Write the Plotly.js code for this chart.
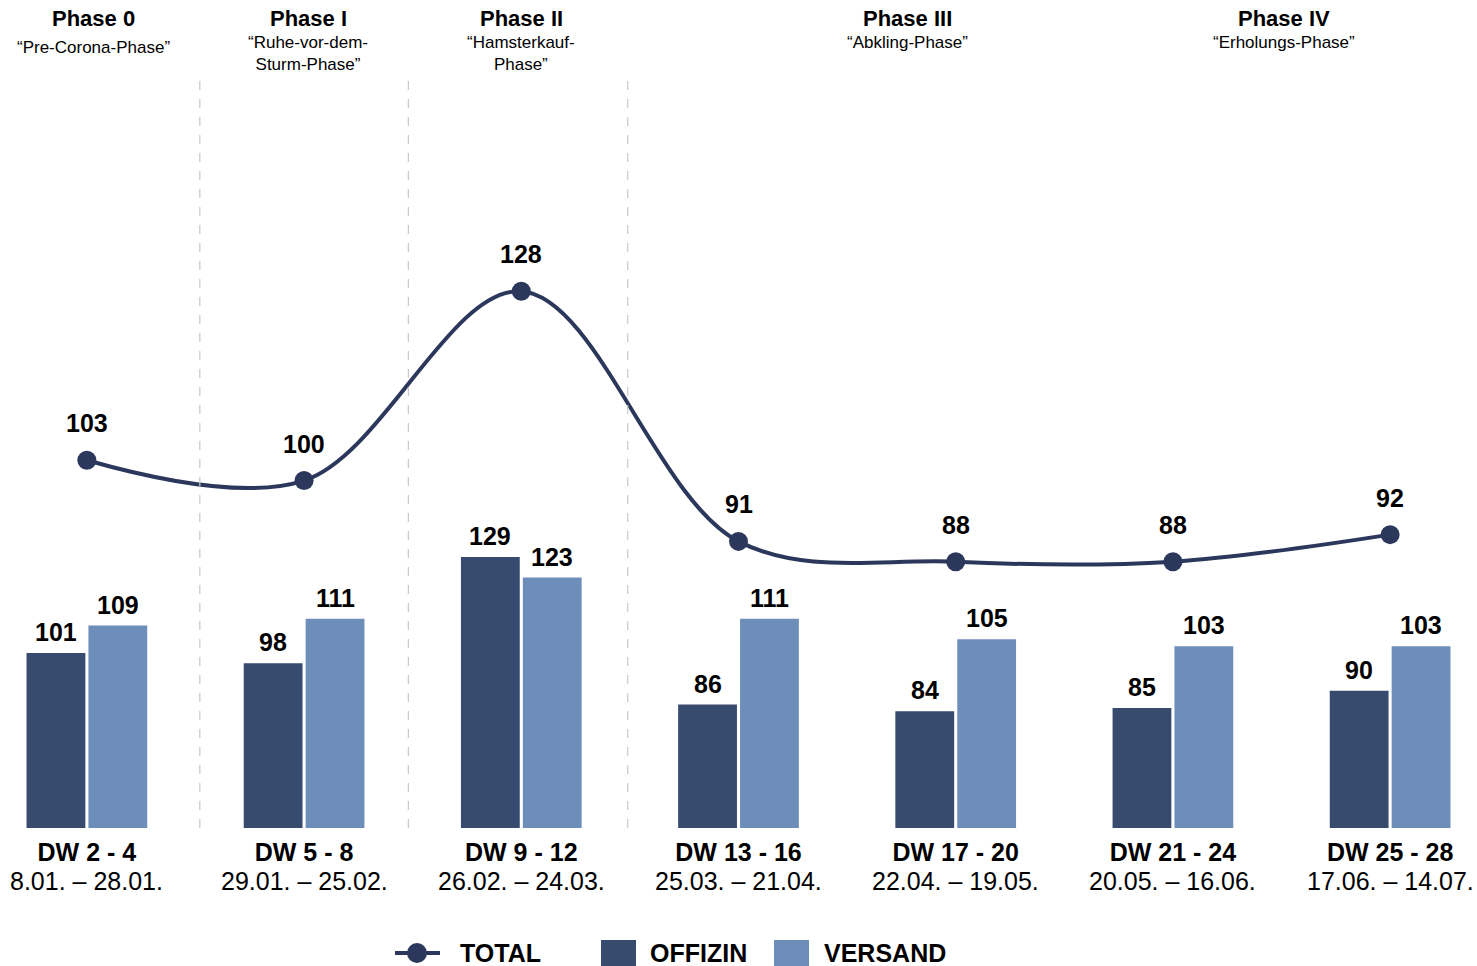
<!DOCTYPE html>
<html>
<head>
<meta charset="utf-8">
<script src="https://cdn.plot.ly/plotly-3.0.1.min.js"></script>
<style>
html,body{margin:0;padding:0;background:#fff;}
#chart{width:1477px;height:966px;}
</style>
</head>
<body>
<div id="chart"></div>
<script>
// ---- data ----
const weeks = ["DW 2 - 4", "DW 5 - 8", "DW 9 - 12", "DW 13 - 16", "DW 17 - 20", "DW 21 - 24", "DW 25 - 28"];
const dateRanges = ["8.01. – 28.01.", "29.01. – 25.02.", "26.02. – 24.03.", "25.03. – 21.04.", "22.04. – 19.05.", "20.05. – 16.06.", "17.06. – 14.07."];
const offizin = [101, 98, 129, 86, 84, 85, 90];
const versand = [109, 111, 123, 111, 105, 103, 103];
const total = [103, 100, 128, 91, 88, 88, 92];
const phaseNames = ["Phase 0", "Phase I", "Phase II", "Phase III", "Phase IV"];
const phaseSubtitles = ["“Pre-Corona-Phase”", "“Ruhe-vor-dem-<br>Sturm-Phase”", "“Hamsterkauf-<br>Phase”", "“Abkling-Phase”", "“Erholungs-Phase”"];
const legendNames = ["TOTAL", "OFFIZIN", "VERSAND"];

// ---- layout constants ----
const W = 1477, H = 966, MT = 75, MB = 138;
const PH = H - MT - MB;
const py = p => (H - MB - p) / PH;      // pixel row -> paper y
const px = p => p / W;                  // pixel col -> paper x
const phaseX = [0.03, 1.02, 2.0, 3.78, 5.51];
const phaseSubTop = [36, 31, 31, 31, 31];
const dividerX = [0.52, 1.48, 2.49];
const FONT = "Liberation Sans, Arial, sans-serif";
const DARK = "#364b6e", LIGHT = "#6e8eba", LINE = "#2c375c";
const FS = 25;

const traces = [
  {
    type: "scatter", mode: "lines+markers", name: legendNames[0],
    x: weeks, y: total, yaxis: "y2",
    line: {color: LINE, width: 4, shape: "spline", smoothing: 1},
    marker: {color: LINE, size: 19},
    cliponaxis: false, hoverinfo: "skip", showlegend: false
  },
  {
    type: "bar", name: legendNames[1], x: weeks, y: offizin,
    marker: {color: DARK, line: {width: 0}},
    hoverinfo: "skip", showlegend: false
  },
  {
    type: "bar", name: legendNames[2], x: weeks, y: versand,
    marker: {color: LIGHT, line: {width: 0}},
    hoverinfo: "skip", showlegend: false
  }
];

const annotations = [];
const lbl = (x, y, yref, text, xshift, yshift) => ({
  x: x, y: y, xref: "x", yref: yref, xshift: xshift, yshift: yshift,
  yanchor: "middle", text: "<b>" + text + "</b>", showarrow: false,
  font: {family: FONT, size: FS, color: "#000"}
});
total.forEach((v, i) => annotations.push(lbl(weeks[i], v, "y2", v, 0, 37)));
offizin.forEach((v, i) => annotations.push(lbl(weeks[i], v, "y", v, -31, 21)));
versand.forEach((v, i) => annotations.push(lbl(weeks[i], v, "y", v, 31, 21)));
dateRanges.forEach((d, i) => annotations.push({
  x: weeks[i], y: py(881), xref: "x", yref: "paper", yanchor: "middle",
  text: d, showarrow: false, font: {family: FONT, size: FS, color: "#000"}
}));
phaseNames.forEach((p, i) => {
  annotations.push({
    x: phaseX[i], y: py(18), xref: "x", yref: "paper", yanchor: "middle",
    text: "<b>" + p + "</b>", showarrow: false,
    font: {family: FONT, size: 22, color: "#000"}
  });
  annotations.push({
    x: phaseX[i], y: py(phaseSubTop[i]), xref: "x", yref: "paper", yanchor: "top",
    text: phaseSubtitles[i], showarrow: false,
    font: {family: FONT, size: 17, color: "#000"}
  });
});

const shapes = dividerX.map(x => ({
  type: "line", xref: "x", yref: "paper", x0: x, x1: x, y0: 0, y1: 1,
  line: {color: "#c8c8c8", width: 1.2, dash: "dash"}
}));

// ---- custom legend ----
const legY = py(953);
shapes.push({type: "line", xref: "paper", yref: "paper", x0: px(395), x1: px(440), y0: legY, y1: legY,
  line: {color: LINE, width: 4}});
shapes.push({type: "circle", xref: "paper", yref: "paper", xsizemode: "pixel", ysizemode: "pixel",
  xanchor: px(417), yanchor: legY, x0: -10, x1: 10, y0: -10, y1: 10,
  fillcolor: LINE, line: {width: 0}});
shapes.push({type: "rect", xref: "paper", yref: "paper", x0: px(601), x1: px(636), y0: py(940), y1: py(966),
  fillcolor: DARK, line: {width: 0}});
shapes.push({type: "rect", xref: "paper", yref: "paper", x0: px(774), x1: px(809), y0: py(940), y1: py(966),
  fillcolor: LIGHT, line: {width: 0}});
[458, 648, 822].forEach((x, i) => {
  annotations.push({
    x: px(x), y: legY, xref: "paper", yref: "paper", xanchor: "left", yanchor: "middle",
    text: "<b>" + legendNames[i] + "</b>", showarrow: false,
    font: {family: FONT, size: FS, color: "#000"}
  });
});

const layout = {
  width: W, height: H,
  margin: {l: 0, r: 0, t: MT, b: MB, autoexpand: false},
  paper_bgcolor: "#fff", plot_bgcolor: "#fff",
  font: {family: FONT, color: "#000"},
  barmode: "group", bargap: 0.43, bargroupgap: 0.05,
  showlegend: false,
  xaxis: {
    type: "category", range: [-0.4, 6.4], automargin: false,
    tickmode: "array", tickvals: weeks, ticktext: weeks.map(w => "<b>" + w + "</b>"),
    tickfont: {family: FONT, size: FS, color: "#000"},
    ticklabelstandoff: 7,
    showgrid: false, zeroline: false, showline: false, ticks: ""
  },
  yaxis: {range: [50, 269.5], visible: false, showgrid: false, zeroline: false},
  yaxis2: {range: [48.6, 160], overlaying: "y", visible: false, showgrid: false, zeroline: false},
  annotations: annotations,
  shapes: shapes
};

Plotly.newPlot("chart", traces, layout, {displayModeBar: false, staticPlot: true});
</script>
</body>
</html>
